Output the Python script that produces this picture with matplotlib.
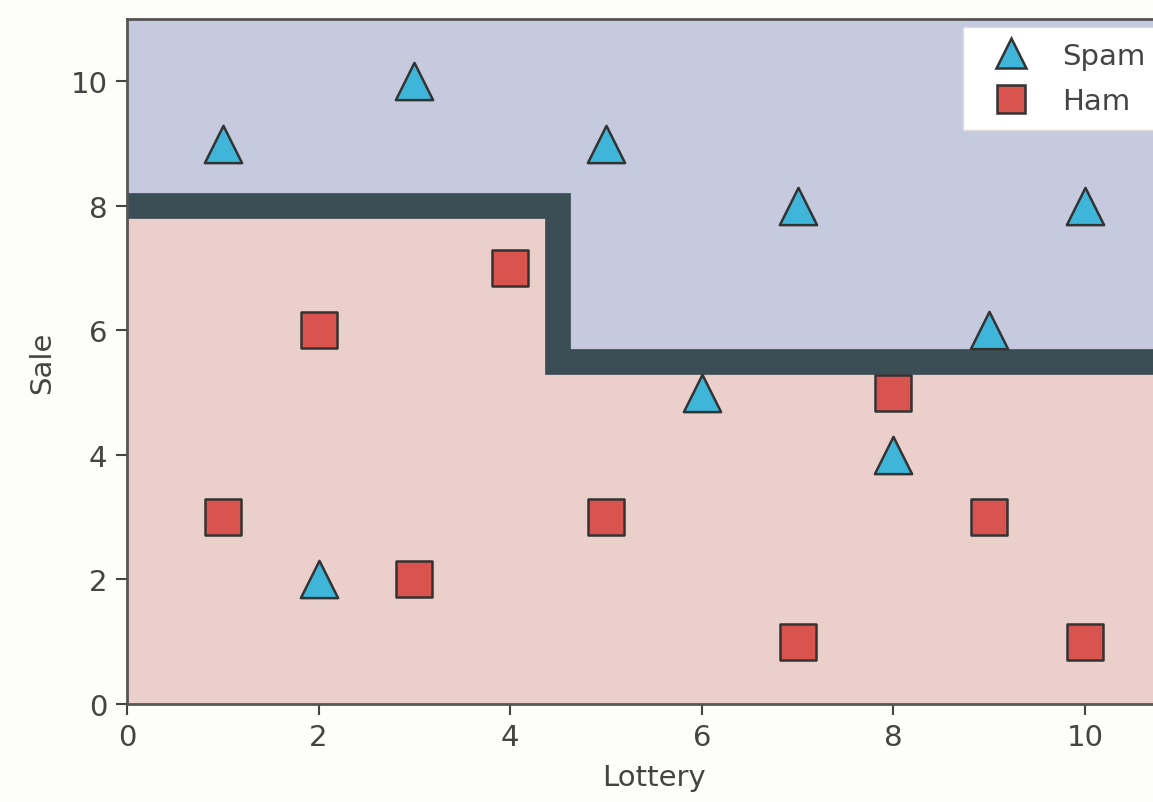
import numpy as np
import matplotlib.pyplot as plt
from matplotlib.lines import Line2D

############################################################
# Data

spam_lottery = [1, 3, 5, 7, 10, 9, 6, 8, 2]
spam_sale = [9, 10, 9, 8, 8, 6, 5, 4, 2]

ham_lottery = [4, 2, 8, 1, 5, 9, 3, 7, 10]
ham_sale = [7, 6, 5, 3, 3, 3, 2, 1, 1]

# decision boundary (step)
bound_x = [0, 4.5, 4.5, 11]
bound_y = [8, 8, 5.5, 5.5]

############################################################
# Plotting

fig = plt.figure(figsize=(11.53, 8.03), dpi=100, facecolor='#fdfdf9')
ax = fig.add_axes([0.1101, 0.122, 0.914, 0.853])

ax.fill_between(bound_x, bound_y, 11, color='#c5cadf', lw=0, zorder=0)
ax.fill_between(bound_x, 0, bound_y, color='#ebcfcb', lw=0, zorder=0)
ax.plot(bound_x, bound_y, color='#3b4d55', lw=18.5,
        solid_joinstyle='miter', solid_capstyle='butt', zorder=2)

ax.scatter(spam_lottery, spam_sale, marker='^', s=720, c='#3fb6d9',
           edgecolors='#333333', linewidths=1.8, zorder=3)
ax.scatter(ham_lottery, ham_sale, marker='s', s=640, c='#d9534f',
           edgecolors='#333333', linewidths=1.8, zorder=3)

ax.set_xlim(0, 11)
ax.set_ylim(0, 11)
ax.set_xticks([0, 2, 4, 6, 8, 10])
ax.set_yticks([0, 2, 4, 6, 8, 10])
ax.tick_params(labelsize=21, colors='#444444', length=8, width=1.5, pad=6)
for sp in ax.spines.values():
    sp.set_color('#555555')
    sp.set_linewidth(2)

ax.set_xlabel('Lottery', fontsize=21, color='#444444', labelpad=8)
ax.set_ylabel('Sale', fontsize=21, color='#444444', labelpad=10)

handles = [
    Line2D([], [], ls='', marker='^', ms=22, mfc='#3fb6d9', mec='#333333', mew=1.8),
    Line2D([], [], ls='', marker='s', ms=20, mfc='#d9534f', mec='#333333', mew=1.8),
]
leg = fig.legend(handles, ['Spam', 'Ham'], loc='upper left',
                 bbox_to_anchor=(0.835, 0.965), fontsize=21, frameon=True,
                 borderaxespad=0, borderpad=0.5, handlelength=2.3,
                 handletextpad=0.6, labelspacing=0.6, fancybox=False,
                 framealpha=1)
leg.get_frame().set_edgecolor('#dddddd')
for t in leg.get_texts():
    t.set_color('#444444')

fig.savefig('out.png', dpi=100, facecolor=fig.get_facecolor())
